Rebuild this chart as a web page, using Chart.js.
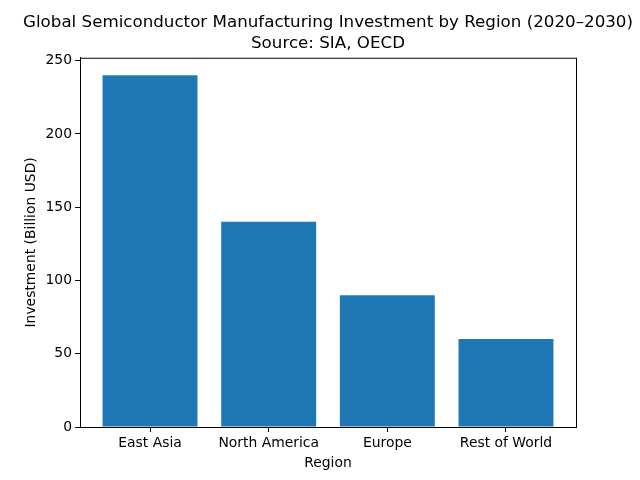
<!DOCTYPE html>
<html>
<head>
<meta charset="utf-8">
<script src="https://cdn.jsdelivr.net/npm/chart.js@4/dist/chart.umd.min.js"></script>
<style>
  html, body { margin: 0; padding: 0; background: #fff; }
  #wrap { width: 640px; height: 480px; }
</style>
</head>
<body>
<div id="wrap"><canvas id="chart" width="640" height="480"></canvas></div>
<script>
// data
const regions = ['East Asia', 'North America', 'Europe', 'Rest of World'];
const investment = [240, 140, 90, 60];
const yTicks = [0, 50, 100, 150, 200, 250];

const font = 'DejaVu Sans';

// matplotlib-style frame around the plot area
const framePlugin = {
  id: 'frame',
  afterDraw(chart) {
    const a = chart.chartArea;
    const ctx = chart.ctx;
    ctx.save();
    ctx.strokeStyle = '#000';
    ctx.lineWidth = 1;
    ctx.strokeRect(a.left + 0.5, a.top + 0.5, a.right - a.left, a.bottom - a.top);
    ctx.restore();
  }
};

const ctx = document.getElementById('chart').getContext('2d');
new Chart(ctx, {
  type: 'bar',
  data: {
    datasets: [{
      data: investment.map((v, i) => ({ x: i, y: v })),
      backgroundColor: '#1f77b4',
      borderColor: '#1f77b4',
      borderWidth: 0,
      inflateAmount: 0,
      barPercentage: 0.8,
      categoryPercentage: 1.0
    }]
  },
  options: {
    responsive: false,
    animation: false,
    layout: { padding: { top: 0, right: 0, bottom: 0, left: 16 } },
    plugins: {
      legend: { display: false },
      tooltip: { enabled: false },
      title: {
        display: true,
        text: ['Global Semiconductor Manufacturing Investment by Region (2020\u20132030)', 'Source: SIA, OECD'],
        color: '#000',
        font: { family: font, size: 16.7, weight: 'normal', lineHeight: 1.25 },
        padding: { top: 12, bottom: 4 }
      }
    },
    scales: {
      x: {
        type: 'linear',
        min: -0.59,
        max: 3.59,
        offset: false,
        afterBuildTicks(scale) {
          scale.ticks = regions.map((_, i) => ({ value: i }));
        },
        afterFit(scale) { scale.height = 53; },
        ticks: {
          color: '#000',
          font: { family: font, size: 13.9 },
          padding: 3,
          maxRotation: 0,
          autoSkip: false,
          callback: (v) => regions[v] || ''
        },
        grid: { display: true, offset: false, drawOnChartArea: false, drawTicks: true, tickLength: 5, color: '#000' },
        border: { display: true, color: '#000' },
        title: {
          display: true,
          text: 'Region',
          color: '#000',
          font: { family: font, size: 13.9 },
          padding: { top: 0, bottom: 8 }
        }
      },
      y: {
        min: 0,
        max: 252,
        afterBuildTicks(scale) {
          scale.ticks = yTicks.map(v => ({ value: v }));
        },
        afterFit(scale) { scale.width = 64; },
        ticks: {
          color: '#000',
          font: { family: font, size: 13.9 },
          padding: 3
        },
        grid: { display: true, drawOnChartArea: false, drawTicks: true, tickLength: 5, color: '#000' },
        border: { display: true, color: '#000' },
        title: {
          display: true,
          text: 'Investment (Billion USD)',
          color: '#000',
          font: { family: font, size: 13.9 },
          padding: { top: 7, bottom: 0 }
        }
      },
      // empty right-hand space, like matplotlib's right margin
      yRight: {
        type: 'linear',
        position: 'right',
        display: true,
        afterFit(scale) { scale.width = 64; },
        ticks: { display: false },
        grid: { display: false },
        border: { display: false }
      }
    }
  },
  plugins: [framePlugin]
});
</script>
</body>
</html>
